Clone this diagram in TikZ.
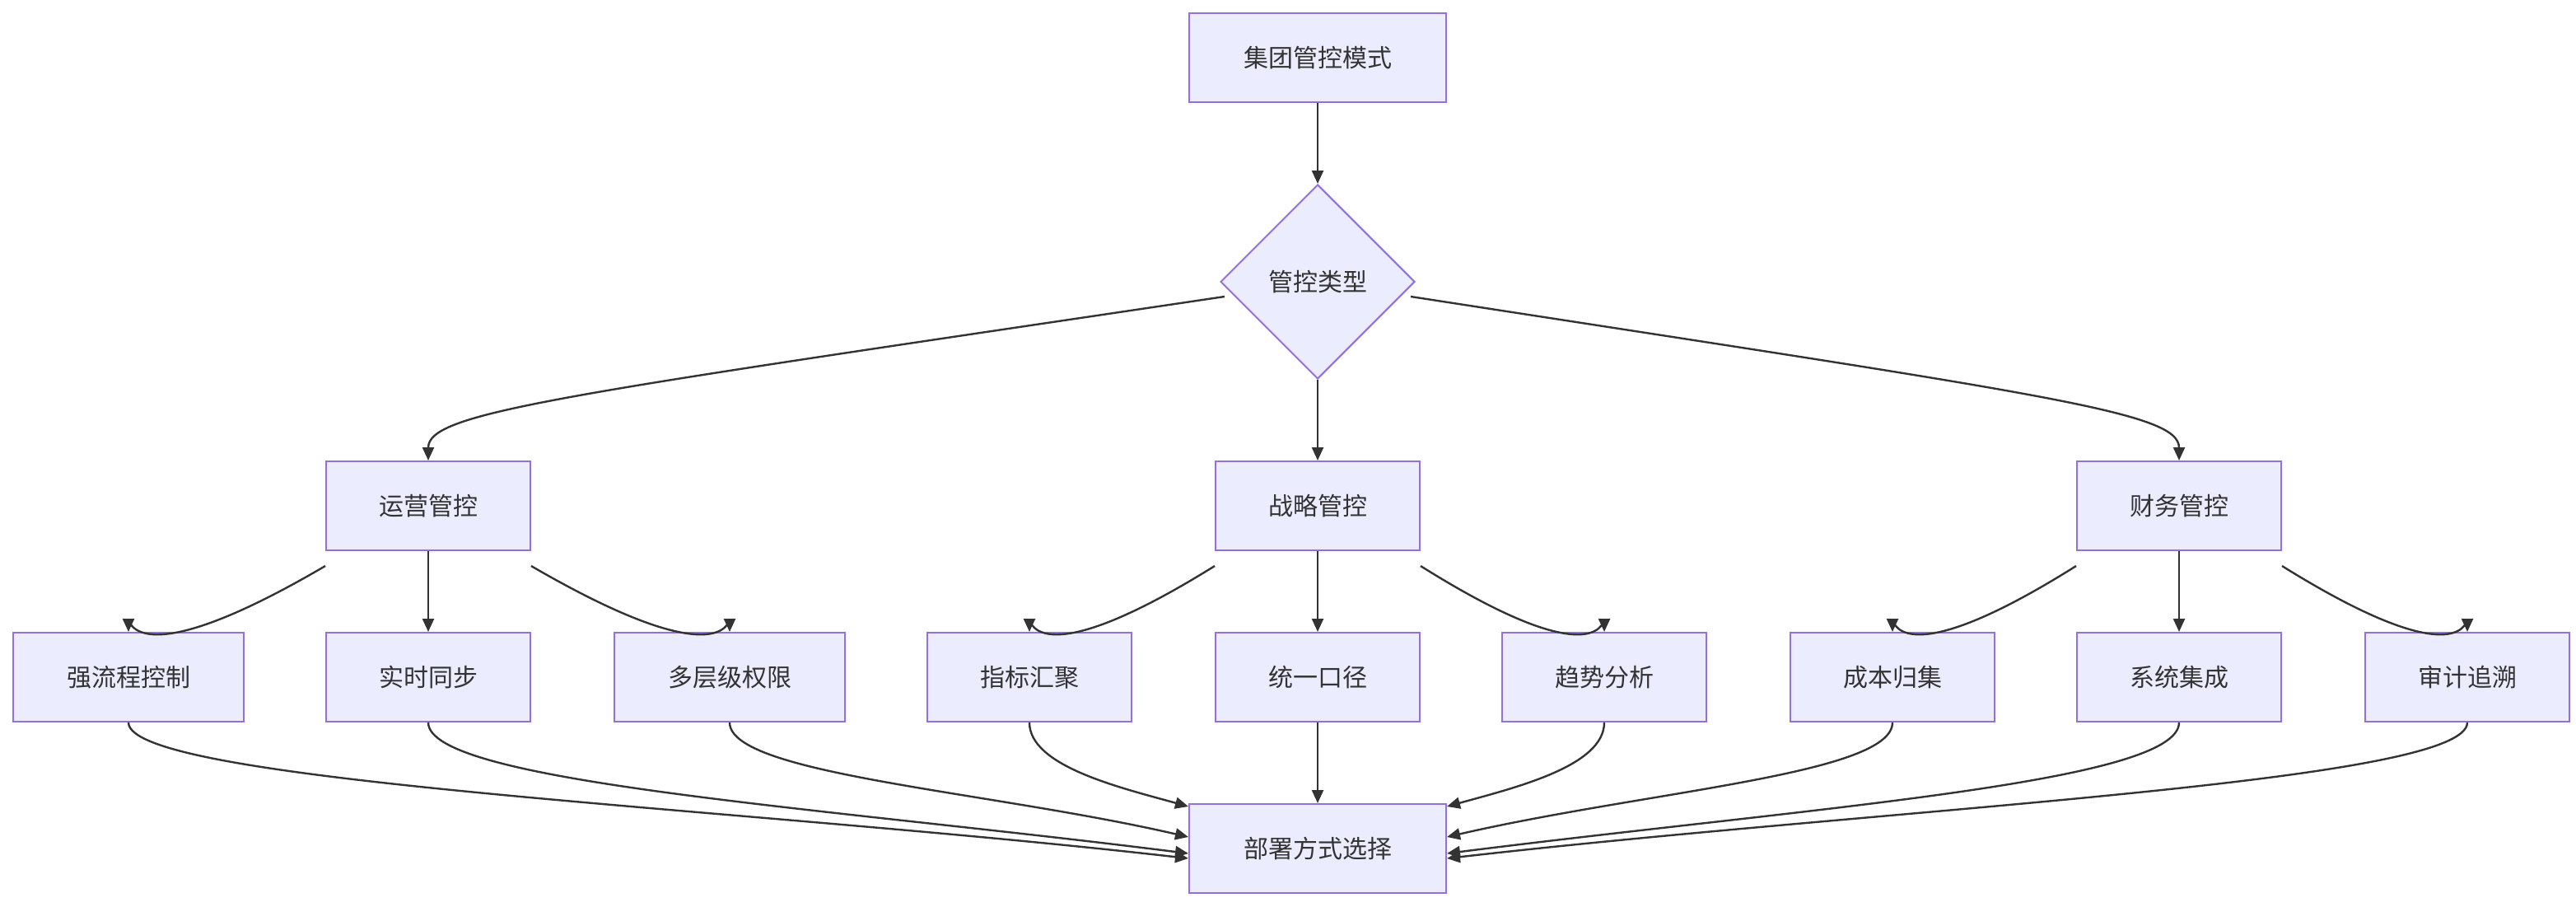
\documentclass[tikz,border=0pt]{standalone}
\usepackage{fontspec}
\setmainfont{Noto Sans CJK SC}
\usetikzlibrary{shapes.geometric,arrows.meta}
\definecolor{nf}{HTML}{ECECFF}
\definecolor{ns}{HTML}{9370DB}
\definecolor{ln}{HTML}{333333}
\begin{document}
\begin{tikzpicture}[x=2pt,y=-2pt,
  box/.style={draw=ns,fill=nf,line width=2pt,inner sep=0,minimum height=108pt,font=\fontsize{30}{36}\selectfont,text=ln},
  w1/.style={box,minimum width=312pt},
  w2/.style={box,minimum width=248pt},
  w3/.style={box,minimum width=280pt},
  dia/.style={draw=ns,fill=nf,line width=2pt,diamond,aspect=1,inner sep=0,minimum width=236pt,minimum height=236pt,font=\fontsize{30}{36}\selectfont,text=ln},
  e/.style={draw=ln,line width=2.4pt,-{Triangle[length=16pt,width=14pt]}}]
\useasboundingbox (0,0) rectangle (1564,550);
\node[w1] (top) at (800,35) {集团管控模式};
\node[dia] (d) at (800,171) {管控类型};
\node[w2] (yy) at (260,307) {运营管控};
\node[w2] (zl) at (800,307) {战略管控};
\node[w2] (cw) at (1323,307) {财务管控};
\node[w3] (a1) at (78,411) {强流程控制};
\node[w2] (a2) at (260,411) {实时同步};
\node[w3] (a3) at (443,411) {多层级权限};
\node[w2] (b1) at (625,411) {指标汇聚};
\node[w2] (b2) at (800,411) {统一口径};
\node[w2] (b3) at (974,411) {趋势分析};
\node[w2] (c1) at (1149,411) {成本归集};
\node[w2] (c2) at (1323,411) {系统集成};
\node[w2] (c3) at (1498,411) {审计追溯};
\node[w1] (bot) at (800,515) {部署方式选择};
\draw[e] (top) -- (d);
\draw[e] (d) -- (zl);
\draw[e] ([shift={(3,9)}]d.west) .. controls (340,240) and (260,250) .. (yy.north);
\draw[e] ([shift={(-3,9)}]d.east) .. controls (1245,240) and (1323,250) .. (cw.north);
\foreach \p/\l/\m/\r in {yy/a1/a2/a3,zl/b1/b2/b3,cw/c1/c2/c3}{
  \draw[e] (\p) -- (\m);
  \draw[e] ([yshift=-18pt]\p.south west) .. controls ([shift={(0,30)}]\l.north) and ([yshift=20pt]\l.north) .. (\l.north);
  \draw[e] ([yshift=-18pt]\p.south east) .. controls ([shift={(0,30)}]\r.north) and ([yshift=20pt]\r.north) .. (\r.north);
}
\draw[e] (b2) -- (bot);
\draw[e] (a1.south) .. controls (78,475) and (450,490) .. ([yshift=-12pt]bot.west);
\draw[e] (a2.south) .. controls (260,475) and (500,490) .. ([yshift=-6pt]bot.west);
\draw[e] (a3.south) .. controls (443,470) and (600,480) .. ([yshift=14pt]bot.west);
\draw[e] (b1.south) .. controls (625,465) and (680,478) .. ([yshift=-4pt]bot.north west);
\draw[e] (b3.south) .. controls (974,465) and (920,478) .. ([yshift=-4pt]bot.north east);
\draw[e] (c1.south) .. controls (1149,470) and (1000,480) .. ([yshift=14pt]bot.east);
\draw[e] (c2.south) .. controls (1323,475) and (1100,490) .. ([yshift=-6pt]bot.east);
\draw[e] (c3.south) .. controls (1498,475) and (1150,490) .. ([yshift=-12pt]bot.east);
\end{tikzpicture}
\end{document}
